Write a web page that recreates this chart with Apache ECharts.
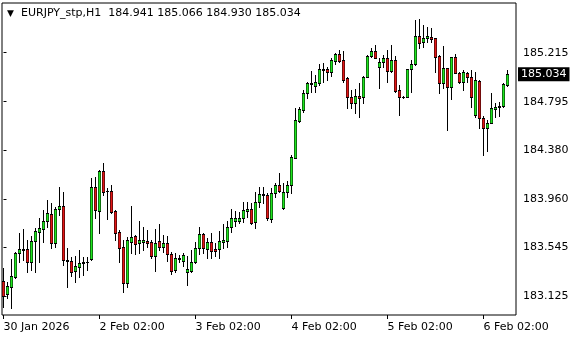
<!DOCTYPE html>
<html><head><meta charset="utf-8">
<script src="https://cdn.jsdelivr.net/npm/echarts@6/dist/echarts.min.js"></script>
<style>html,body{margin:0;padding:0;background:#fff}#c{width:580px;height:340px}</style>
</head><body><div id="c"></div>
<script>
const symbolName = 'EURJPY_stp,H1';
const timeLabels = ['30 Jan 2026','2 Feb 02:00','3 Feb 02:00','4 Feb 02:00','5 Feb 02:00','6 Feb 02:00'];
const timeTickBars = [0,24,48,72,96,120];
const priceTicks = [183.125,183.545,183.960,184.380,184.795,185.215];
const lastPrice = 185.034;

const opens = [
183.259,183.144,183.210,183.296,183.496,183.527,183.533,183.424,183.601,183.681,183.701,183.773,183.833,183.587,183.878,183.901,183.438,183.430,183.347,183.381,183.410,183.418,183.444,184.061,183.861,184.201,184.033,184.033,183.858,183.676,183.547,183.239,
183.596,183.644,183.581,183.596,183.601,183.590,183.476,183.601,183.553,183.581,183.487,183.353,183.444,183.433,183.333,183.347,183.424,183.538,183.661,183.533,183.590,183.533,183.530,183.596,183.601,183.718,183.776,183.773,183.801,183.861,183.873,183.767,183.933,183.995,183.995,183.790,184.010,184.081,183.881,184.018,
184.082,184.310,184.633,184.724,184.873,184.944,184.933,184.953,185.073,185.073,185.053,185.147,185.204,185.153,184.996,184.833,184.787,184.844,184.833,185.004,185.187,185.230,185.090,185.133,185.167,185.061,185.153,184.896,
184.838,184.838,185.073,185.118,185.358,185.310,185.338,185.347,185.338,185.187,184.953,185.081,184.918,185.175,185.038,184.967,185.038,185.004,184.681,184.973,184.653,184.567,184.616,184.736,184.747,184.761,184.941];
const highs = [
183.367,183.253,183.444,183.510,183.667,183.704,183.610,183.644,183.710,183.796,183.867,183.953,183.924,183.895,184.061,184.024,183.538,183.467,183.473,183.524,183.467,183.467,184.138,184.153,184.210,184.267,184.053,184.081,183.867,183.696,183.610,183.638,
183.901,183.653,183.773,183.724,183.696,183.610,183.701,183.747,183.653,183.644,183.510,183.496,183.481,183.496,183.473,183.524,183.596,183.718,183.667,183.624,183.673,183.581,183.687,183.747,183.776,183.873,183.861,183.853,183.938,183.938,183.930,184.024,184.067,184.061,184.015,184.053,184.101,184.181,184.095,184.115,
184.339,184.739,184.753,184.896,184.967,185.058,185.024,185.118,185.124,185.096,185.167,185.215,185.238,185.233,185.004,184.896,184.901,184.953,185.016,185.195,185.253,185.281,185.167,185.195,185.238,185.281,185.190,184.939,
184.845,185.073,185.153,185.495,185.501,185.452,185.438,185.424,185.338,185.195,185.273,185.081,185.181,185.204,185.053,185.067,185.053,185.067,185.053,184.981,184.673,184.638,184.867,184.787,184.796,184.953,185.066];
const lows = [
183.039,183.116,183.024,183.281,183.424,183.438,183.339,183.353,183.339,183.424,183.596,183.724,183.538,183.553,183.824,183.396,183.210,183.301,183.253,183.296,183.310,183.353,183.438,183.796,183.673,183.995,183.790,183.838,183.610,183.424,183.167,183.210,
183.496,183.490,183.496,183.524,183.553,183.453,183.347,183.524,183.510,183.430,183.319,183.339,183.424,183.387,183.224,183.339,183.410,183.490,183.496,183.453,183.453,183.473,183.453,183.538,183.553,183.681,183.730,183.758,183.767,183.810,183.747,183.710,183.895,183.924,183.781,183.767,183.981,184.024,183.873,183.981,
184.010,184.310,184.624,184.710,184.824,184.881,184.881,184.938,184.967,184.981,185.016,185.118,185.138,184.967,184.739,184.739,184.696,184.667,184.781,185.004,185.181,185.167,184.910,185.096,184.967,185.053,184.881,184.681,
184.830,184.838,184.881,185.110,185.253,185.261,185.310,185.310,185.053,184.867,184.910,184.553,184.816,185.038,184.953,184.896,184.967,184.753,184.667,184.567,184.339,184.376,184.610,184.667,184.673,184.753,184.930];
const closes = [
183.133,183.216,183.301,183.496,183.533,183.533,183.424,183.601,183.687,183.710,183.773,183.838,183.587,183.873,183.901,183.438,183.427,183.339,183.387,183.410,183.418,183.418,184.061,183.867,184.201,184.024,184.033,183.850,183.673,183.544,183.239,183.610,
183.638,183.576,183.610,183.610,183.587,183.476,183.581,183.553,183.581,183.487,183.347,183.459,183.459,183.481,183.359,183.424,183.538,183.661,183.538,183.590,183.518,183.518,183.601,183.610,183.718,183.796,183.796,183.801,183.867,183.873,183.758,183.933,184.004,184.004,183.796,184.010,184.081,184.033,184.024,184.081,
184.319,184.639,184.733,184.873,184.958,184.958,184.967,185.073,185.070,185.053,185.153,185.204,185.147,184.981,184.833,184.787,184.844,184.824,185.010,185.187,185.230,185.173,185.133,185.167,185.061,185.153,184.890,184.838,
184.838,185.073,185.118,185.358,185.301,185.338,185.358,185.330,185.181,184.953,185.081,184.918,185.175,185.038,184.967,185.053,185.004,184.838,184.981,184.653,184.567,184.610,184.738,184.747,184.758,184.947,185.034];

const FONT = 'DejaVu Sans';
const BULL = '#1ee61e', BEAR = '#e31515';
const BULL_EDGE = '#0f730f', BEAR_EDGE = '#720b0b';
const NONE = 'rgba(0,0,0,0)';
const n = closes.length;
const candles = opens.map((o, i) => [i, o, closes[i], lows[i], highs[i]]);
const ohlcText = [opens[n-1], highs[n-1], lows[n-1], closes[n-1]].map(v => v.toFixed(3)).join(' ');

function renderCandle(params, api) {
  const i = api.value(0), o = api.value(1), c = api.value(2), l = api.value(3), h = api.value(4);
  const po = api.coord([i, o]), pc = api.coord([i, c]);
  const px = Math.floor(po[0]);
  const yo = Math.round(po[1]), yc = Math.round(pc[1]);
  const yh = Math.round(api.coord([i, h])[1]), yl = Math.round(api.coord([i, l])[1]);
  const top = Math.min(yo, yc), bot = Math.max(yo, yc);
  const up = c >= o;
  const fill = up ? BULL : BEAR, edge = up ? BULL_EDGE : BEAR_EDGE;
  const children = [
    {type: 'rect', shape: {x: px, y: yh, width: 1, height: yl - yh + 1}, style: {fill: '#000'}},
    {type: 'rect', shape: {x: px - 1, y: top, width: 3, height: bot - top + 1}, style: {fill: '#000'}}
  ];
  if (bot - top >= 2) {
    children.push({type: 'rect', shape: {x: px - 1, y: top + 1, width: 3, height: bot - top - 1}, style: {fill: edge}});
    children.push({type: 'rect', shape: {x: px, y: top + 1, width: 1, height: bot - top - 1}, style: {fill: fill}});
  }
  return {type: 'group', children: children};
}

const chart = echarts.init(document.getElementById('c'), null, {renderer: 'canvas'});
chart.setOption({
  animation: false,
  backgroundColor: '#fff',
  title: {
    left: 7, top: 8, padding: 0,
    text: '{t|▼}' + symbolName + '  ' + ohlcText,
    textStyle: {fontFamily: FONT, fontSize: 11, fontWeight: 'normal', color: '#000',
      rich: {t: {fontSize: 9, width: 14, color: '#000', fontFamily: FONT}}}
  },
  grid: {left: 2, top: 3, right: 64, bottom: 25, show: true, borderColor: '#000', borderWidth: 1,
    backgroundColor: 'transparent', containLabel: false, outerBoundsMode: 'none'},
  xAxis: {
    type: 'value', min: -0.375, max: 128.125,
    splitLine: {show: false}, axisLine: {show: false},
    axisTick: {show: true, length: 4, customValues: timeTickBars, lineStyle: {color: '#000'}},
    axisLabel: {customValues: timeTickBars, formatter: v => timeLabels[timeTickBars.indexOf(v)],
      align: 'left', margin: 7, color: '#000', fontFamily: FONT, fontSize: 11}
  },
  yAxis: {
    type: 'value', position: 'right', min: 182.967, max: 185.641, scale: true,
    splitLine: {show: false}, axisLine: {show: false},
    axisTick: {show: true, length: 3, customValues: priceTicks, lineStyle: {color: '#000'}},
    axisLabel: {customValues: priceTicks, formatter: v => v.toFixed(3), margin: 7,
      color: '#000', fontFamily: FONT, fontSize: 11}
  },
  series: [{
    name: 'EURJPY',
    type: 'custom',
    data: candles,
    encode: {x: 0, y: [1, 2, 3, 4]},
    clip: false,
    renderItem: renderCandle,
    markLine: {
      silent: true, symbol: 'none', animation: false,
      lineStyle: {width: 0, color: NONE, opacity: 1},
      label: {show: true, position: 'end', distance: 2, formatter: lastPrice.toFixed(3),
        color: '#fff', backgroundColor: '#000', padding: [2, 3, 1, 3], opacity: 1,
        fontFamily: FONT, fontSize: 11},
      data: [{yAxis: lastPrice}]
    }
  }]
});
</script></body></html>
